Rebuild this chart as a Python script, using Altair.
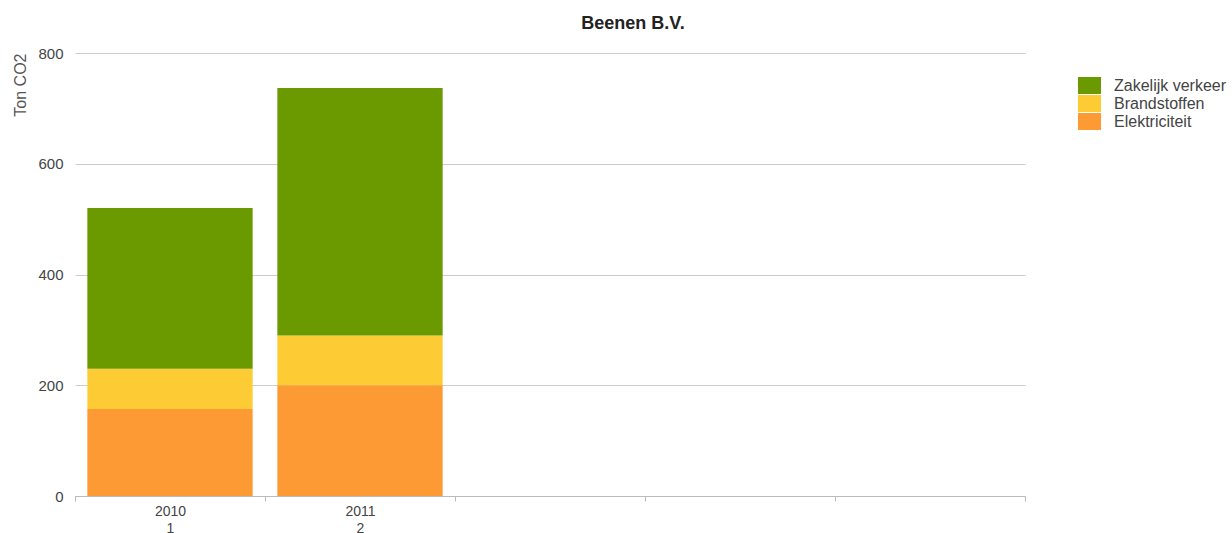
import altair as alt
import pandas as pd

categories = ["2010\n1", "2011\n2"]
empty_slots = ["_3", "_4", "_5"]
series = ["Zakelijk verkeer", "Brandstoffen", "Elektriciteit"]
colors = ["#6A9900", "#FDCB33", "#FE9A33"]
elektriciteit = [157, 200]
brandstoffen = [73, 90]
zakelijk = [290, 447]

rows = []
for i, c in enumerate(categories):
    rows.append({"cat": c, "serie": "Elektriciteit", "value": elektriciteit[i], "ord": 0})
    rows.append({"cat": c, "serie": "Brandstoffen", "value": brandstoffen[i], "ord": 1})
    rows.append({"cat": c, "serie": "Zakelijk verkeer", "value": zakelijk[i], "ord": 2})
df = pd.DataFrame(rows)

chart = alt.Chart(df).mark_bar(width=alt.RelativeBandSize(0.87)).encode(
    x=alt.X("cat:N", title=None,
            scale=alt.Scale(domain=categories + empty_slots, paddingInner=0, paddingOuter=0),
            axis=alt.Axis(labelExpr="indexof(datum.label, '_') == 0 ? '' : split(datum.label, '\\n')",
                          labelAngle=0, tickBand="extent", domainColor="#bbbbbb",
                          tickColor="#bbbbbb", tickSize=5, labelFontSize=14,
                          labelColor="#444444", labelFont="Liberation Sans",
                          labelPadding=3, labelLineHeight=17, grid=False)),
    y=alt.Y("value:Q", stack="zero", title="Ton CO2",
            scale=alt.Scale(domain=[0, 800]),
            axis=alt.Axis(values=[0, 200, 400, 600, 800], domain=False, ticks=False,
                          gridColor="#cccccc", labelFontSize=15, labelColor="#444444",
                          labelFont="Liberation Sans", labelPadding=12,
                          titleAnchor="end", titleFont="Liberation Sans",
                          titleFontSize=16, titleFontWeight="normal",
                          titleColor="#555555", titlePadding=9)),
    color=alt.Color("serie:N", scale=alt.Scale(domain=series, range=colors),
                    legend=alt.Legend(title=None, orient="none", legendX=1006, legendY=24,
                                      symbolType="M-1.35,-1H1.35V1H-1.35Z", symbolSize=289,
                                      symbolStrokeWidth=0, rowPadding=1,
                                      labelFont="Liberation Sans", labelFontSize=16,
                                      labelColor="#444444", labelOffset=16)),
    order=alt.Order("ord:Q"),
).properties(
    width=950, height=443,
    title=alt.TitleParams("Beenen B.V.", font="Liberation Sans", fontSize=18,
                          fontWeight="bold", color="#222222", anchor="middle",
                          dx=83, offset=13),
    padding={"left": 75, "top": 53, "right": 207, "bottom": 37},
    autosize=alt.AutoSizeParams(type="none"),
).configure_view(stroke=None)

chart.save("out.html", embed_options={"renderer": "svg", "actions": False})
